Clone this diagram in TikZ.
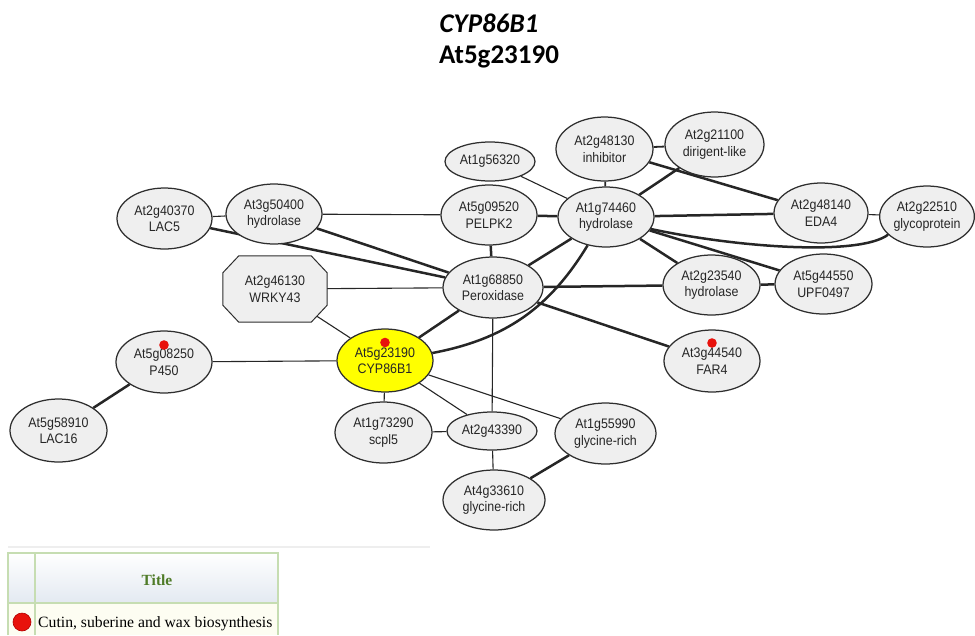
\documentclass[tikz,border=0pt]{standalone}
\usepackage{fontspec}
\newfontfamily\genefont[FakeStretch=0.9]{Liberation Sans}
\newfontfamily\headfont{Carlito}
\newfontfamily\tablefont{Liberation Serif}
\usetikzlibrary{shapes.geometric}

\definecolor{nodefill}{HTML}{EFEFEF}
\definecolor{nodeline}{HTML}{2E2E2E}
\definecolor{edgecol}{HTML}{262626}
\definecolor{genetext}{HTML}{262626}
\definecolor{seedyellow}{HTML}{FFFF00}
\definecolor{dotred}{HTML}{E8120C}
\definecolor{dotrim}{HTML}{B00000}
\definecolor{gridgreen}{HTML}{C6DDB2}
\definecolor{headgreen}{HTML}{4F7B28}
\definecolor{headshade}{HTML}{E3E9F1}
\definecolor{rowtint}{HTML}{FDFDF2}
\definecolor{faintrule}{HTML}{EEEEEE}

\pgfdeclarelayer{edges}
\pgfdeclarelayer{shapes}
\pgfsetlayers{edges,shapes,main}

\tikzset{
  gene/.style 2 args={ellipse, draw=nodeline, line width=1.25pt, fill=nodefill,
    inner sep=0pt, minimum width=#1pt, minimum height=#2pt, align=center,
    text=genetext, font=\genefont\fontsize{13.8}{16.5}\selectfont},
  seed/.style={fill=seedyellow},
  octolabel/.style={rectangle, inner sep=0pt, minimum width=104pt, minimum height=66pt,
    align=center, text=genetext, font=\genefont\fontsize{13.8}{16.5}\selectfont},
  octoline/.style={draw=nodeline, line width=1pt, fill=nodefill},
  thinedge/.style={draw=edgecol, line width=1.1pt},
  midedge/.style={draw=edgecol, line width=1.8pt},
  thickedge/.style={draw=edgecol, line width=2.5pt},
  hitdot/.style={fill=dotred},
}

\begin{document}
\begin{tikzpicture}[x=1pt,y=1pt]
\useasboundingbox (0,0) rectangle (975,-635);

% title
\node[anchor=base, font=\headfont\bfseries\itshape\fontsize{27}{31}\selectfont] (ttl1) at (489,-32) {CYP86B1};
\node[anchor=base, font=\headfont\bfseries\fontsize{27}{31}\selectfont] (ttl2) at (499,-63.5) {At5g23190};

% gene nodes
\node[gene={95}{61}] (lac5)   at (164.5,-218.5) {At2g40370\\LAC5};
\node[gene={96}{60}] (h50400) at (274,-214)     {At3g50400\\hydrolase};
\node[gene={90}{39}] (a56320) at (490,-161.5)   {At1g56320};
\node[gene={96}{60}] (pelpk2) at (489,-215)     {At5g09520\\PELPK2};
\node[gene={97}{64}] (inhib)  at (604.5,-149)   {At2g48130\\inhibitor};
\node[gene={99}{65}] (dirig)  at (714.5,-144.5) {At2g21100\\dirigent-like};
\node[gene={96}{60}] (h74460) at (606,-217)     {At1g74460\\hydrolase};
\node[gene={94}{60}] (eda4)   at (821,-213)     {At2g48140\\EDA4};
\node[gene={92}{61}] (glyco)  at (927,-216.5)   {At2g22510\\glycoprotein};
\node[gene={100}{61}] (perox) at (493,-287.5)   {At1g68850\\Peroxidase};
\node[octolabel] (wrky)       at (275,-289)     {At2g46130\\WRKY43};
\node[gene={97}{60}] (h23540) at (711.5,-285)   {At2g23540\\hydrolase};
\node[gene={97}{60}] (upf)    at (823.5,-284)   {At5g44550\\UPF0497};
\node[gene={96}{62}] (far4)   at (712,-361)     {At3g44540\\FAR4};
\node[gene={96}{62}] (p450)   at (164,-362)     {At5g08250\\P450};
\node[gene={97}{63}] (lac16)  at (58.5,-430.5)  {At5g58910\\LAC16};
\node[gene={96}{63},seed] (cyp) at (385,-360.5) {At5g23190\\CYP86B1};
\node[gene={97}{61}] (scpl5)  at (383.5,-432.5) {At1g73290\\scpl5};
\node[gene={90}{38}] (a43390) at (492,-431)     {At2g43390};
\node[gene={101}{61}] (a55990) at (605.5,-433.5) {At1g55990\\glycine-rich};
\node[gene={102}{60}] (a33610) at (494,-500)    {At4g33610\\glycine-rich};

% octagon outline of the transcription factor
\begin{pgfonlayer}{shapes}
\draw[octoline] ([xshift=16pt]wrky.north west) -- ([xshift=-16pt]wrky.north east)
  -- ([yshift=-17pt]wrky.north east) -- ([yshift=17pt]wrky.south east)
  -- ([xshift=-16pt]wrky.south east) -- ([xshift=16pt]wrky.south west)
  -- ([yshift=17pt]wrky.south west) -- ([yshift=-17pt]wrky.north west) -- cycle;
\end{pgfonlayer}

% interactions
\begin{pgfonlayer}{edges}
\draw[thinedge]  (lac5) -- (h50400);
\draw[thickedge] (lac5) -- (perox);
\draw[thinedge]  (h50400) -- (pelpk2);
\draw[thickedge] (h50400) -- (perox);
\draw[thinedge]  (wrky.center) -- (perox);
\draw[thinedge]  (wrky.center) -- (cyp);
\draw[thickedge] (pelpk2) -- (perox);
\draw[thickedge] (pelpk2) -- (h74460);
\draw[thinedge]  (a56320) -- (h74460);
\draw[midedge]   (inhib) -- (h74460);
\draw[midedge]   (inhib) -- (dirig);
\draw[thickedge] (inhib) -- (eda4);
\draw[thickedge] (dirig) -- (h74460);
\draw[thickedge] (h74460) -- (eda4);
\draw[thinedge]  (eda4) -- (glyco);
\draw[thickedge] (h74460.-15) .. controls (740,-248) and (860,-256) .. (glyco.205);
\draw[thickedge] (h74460) -- (h23540);
\draw[thickedge] (h74460) -- (upf);
\draw[thickedge] (h74460) -- (perox);
\draw[thickedge] (cyp) to[bend right=24] (h74460);
\draw[thickedge] (perox) -- (h23540);
\draw[thickedge] (h23540) -- (upf);
\draw[thickedge] (perox) -- (far4);
\draw[thickedge] (perox) -- (cyp);
\draw[thinedge]  (perox) -- (a43390);
\draw[thinedge]  (cyp) -- (p450);
\draw[thickedge] (p450) -- (lac16);
\draw[thinedge]  (cyp) -- (scpl5);
\draw[thinedge]  (cyp) -- (a43390);
\draw[thinedge]  (cyp) -- (a55990);
\draw[thinedge]  (scpl5) -- (a43390);
\draw[thinedge]  (a43390) -- (a33610);
\draw[thickedge] (a55990) -- (a33610);
\end{pgfonlayer}

% pathway markers
\fill[hitdot] ([yshift=18pt]cyp.center) circle[radius=4.8pt];
\fill[hitdot] ([yshift=17pt]p450.center) circle[radius=4.8pt];
\fill[hitdot] ([yshift=18pt]far4.center) circle[radius=4.8pt];

% legend table
\draw[faintrule, line width=1.5pt] (8,-547) -- (430,-547);
\shade[top color=white, bottom color=headshade] (8,-553) rectangle (278,-603);
\fill[rowtint] (8,-603) rectangle (278,-635);
\draw[gridgreen, line width=1.5pt] (8,-635) -- (8,-553) -- (278,-553) -- (278,-635);
\draw[gridgreen, line width=1.5pt] (8,-603) -- (278,-603);
\draw[gridgreen, line width=1.5pt] (35,-553) -- (35,-635);
\node[anchor=base, text=headgreen, font=\tablefont\bfseries\fontsize{15.5}{18}\selectfont] (legtitle) at (157,-585) {Title};
\node[circle, inner sep=0pt, minimum size=18pt, fill=dotred, draw=dotrim, line width=0.6pt] (legdot) at (22,-622) {};
\node[anchor=base west, inner sep=0pt, font=\tablefont\fontsize{15.7}{18}\selectfont] (legtext) at (38,-627.5) {Cutin, suberine and wax biosynthesis};

\end{tikzpicture}
\end{document}
